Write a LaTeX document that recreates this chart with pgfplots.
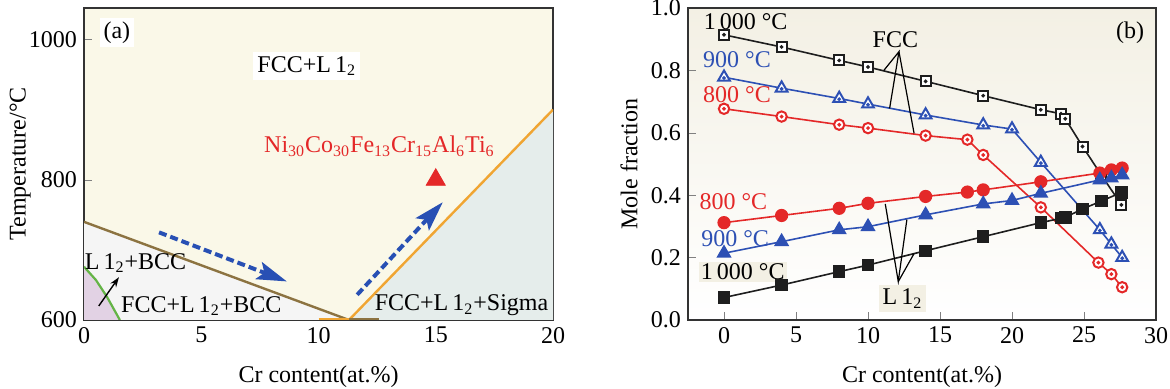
\documentclass[border=0pt]{standalone}
\usepackage{fontspec}
\setmainfont{Liberation Serif}
\usepackage{pgfplots}
\pgfplotsset{compat=1.18}
\usetikzlibrary{arrows.meta}
\definecolor{cream}{RGB}{250,248,232}
\definecolor{lgray}{RGB}{245,245,245}
\definecolor{sigmac}{RGB}{229,237,235}
\definecolor{purp}{RGB}{226,210,228}
\definecolor{brownl}{RGB}{140,115,65}
\definecolor{orangel}{RGB}{240,165,50}
\definecolor{greenl}{RGB}{100,180,70}
\definecolor{arrblue}{RGB}{40,80,180}
\definecolor{tred}{RGB}{228,40,40}
\definecolor{tblue}{RGB}{45,80,180}
\definecolor{tblack}{RGB}{30,30,30}
\definecolor{beige}{RGB}{243,240,228}

\pgfdeclareplotmark{sqdot}{%
  \pgfpathrectangle{\pgfqpoint{-\pgfplotmarksize}{-\pgfplotmarksize}}{\pgfqpoint{2\pgfplotmarksize}{2\pgfplotmarksize}}%
  \pgfusepathqfillstroke
  \pgfpathcircle{\pgfpointorigin}{0.35pt}\pgfusepathqstroke}
\pgfdeclareplotmark{tridot}{%
  \pgfpathmoveto{\pgfqpoint{0pt}{\pgfplotmarksize}}%
  \pgfpathlineto{\pgfqpointpolar{-30}{\pgfplotmarksize}}%
  \pgfpathlineto{\pgfqpointpolar{210}{\pgfplotmarksize}}%
  \pgfpathclose
  \pgfusepathqfillstroke
  \pgfpathcircle{\pgfqpoint{0pt}{-0.1\pgfplotmarksize}}{0.35pt}\pgfusepathqstroke}
\pgfdeclareplotmark{cirdot}{%
  \pgfpathcircle{\pgfpointorigin}{\pgfplotmarksize}%
  \pgfusepathqfillstroke
  \pgfpathcircle{\pgfpointorigin}{0.35pt}\pgfusepathqstroke}

\pgfplotsset{
  every axis/.append style={font=\fontsize{12}{14}\selectfont},
  /pgf/number format/assume math mode=true,
  /pgf/number format/set thousands separator={},
}

\begin{document}
\begin{tikzpicture}
\useasboundingbox (0,0) rectangle (585pt,194.5pt);
% ---------------- panel (a)
\begin{axis}[
  at={(42pt,34.5pt)}, anchor=south west,
  width=234.5pt, height=156pt, scale only axis,
  xmin=0, xmax=20, ymin=600, ymax=1045,
  xtick={0,5,10,15,20}, ytick={600,800,1000},
  tick align=inside, tick pos=left,
  major tick length=4pt,
  axis line style={line width=0.8pt, black!80},
  axis background/.style={fill=cream},
  xlabel={Cr content(at.\%)},
  ylabel={Temperature/°C},
  xlabel style={at={(axis description cs:0.5,-0.183)}, anchor=center},
  ylabel style={at={(axis description cs:-0.136,0.5)}, anchor=center},
  clip=true,
]
\addplot[fill=lgray, draw=none] coordinates {(0,600) (0,740) (11.3,600)} -- cycle;
\addplot[fill=sigmac, draw=none] coordinates {(11.3,600) (20,900) (20,600)} -- cycle;
\addplot[fill=purp, draw=none] coordinates {(0,600) (0,676) (0.51,657) (0.98,633) (1.53,600)} -- cycle;
\addplot[greenl, line width=1.1pt] coordinates {(0,676) (0.51,657) (0.98,633) (1.53,600)};
\addplot[brownl, line width=1.2pt] coordinates {(0,740) (11.3,600)};
\addplot[orangel, line width=1.2pt] coordinates {(11.3,600) (20,900)};
\addplot[orangel, line width=1.2pt] coordinates {(10,600.8) (11.3,600.8)};
\addplot[brownl, line width=1.2pt] coordinates {(11.3,600.8) (12.6,600.8)};
\addplot[arrblue, line width=2pt, dash pattern=on 4pt off 2pt, -{Stealth[length=15pt,width=9pt,inset=3pt]}] coordinates {(3.2,725) (8.65,655)};
\addplot[arrblue, line width=2pt, dash pattern=on 4pt off 2pt, -{Stealth[length=15pt,width=9pt,inset=3pt]}] coordinates {(11.65,636) (15.3,768)};
\addplot[only marks, mark=triangle*, tred, mark size=5.5pt] coordinates {(15,800)};
\addplot[black, line width=0.7pt, -{Stealth[length=5pt,width=3.5pt]}] coordinates {(0.63,620) (1.49,661)};
\node[fill=white, inner sep=2pt] at (axis cs:1.4,1010) {(a)};
\node[fill=white, inner sep=2pt] at (axis cs:9.5,962) {FCC+L\,1\textsubscript{2}};
\node[text=tred] at (axis cs:12.6,848) {Ni\textsubscript{30}Co\textsubscript{30}Fe\textsubscript{13}Cr\textsubscript{15}Al\textsubscript{6}Ti\textsubscript{6}};
\node at (axis cs:2.2,681) {L\,1\textsubscript{2}+BCC};
\node at (axis cs:5.0,620) {FCC+L\,1\textsubscript{2}+BCC};
\node at (axis cs:16.1,621) {FCC+L\,1\textsubscript{2}+Sigma};
\end{axis}
% ---------------- panel (b)
\begin{axis}[
  at={(344pt,34.5pt)}, anchor=south west,
  width=234pt, height=156pt, scale only axis,
  xmin=-2.5, xmax=30, ymin=0, ymax=1,
  xtick={0,5,10,15,20,25,30}, ytick={0,0.2,0.4,0.6,0.8,1},
  yticklabel style={/pgf/number format/.cd, fixed, fixed zerofill, precision=1},
  tick align=inside, tick pos=left,
  major tick length=4pt,
  axis line style={line width=0.8pt, black!80},
  axis background/.style={top color=beige, middle color=beige, bottom color=white},
  xlabel={Cr content(at.\%)},
  ylabel={Mole fraction},
  xlabel style={at={(axis description cs:0.5,-0.183)}, anchor=center},
  ylabel style={at={(axis description cs:-0.126,0.5)}, anchor=center},
]
% FCC curves (open marks)
\addplot[tblack, line width=0.8pt, mark=sqdot, mark size=2.5pt, mark options={fill=white, line width=1pt}] coordinates {
(0,0.914) (4,0.875) (8,0.832) (10,0.811) (14,0.765) (18,0.719) (22,0.674) (23.4,0.661) (23.7,0.645) (24.9,0.556) (26.2,0.465) (27.6,0.369)};
\addplot[tblue, line width=0.8pt, mark=tridot, mark size=3.4pt, mark options={fill=white, line width=1pt}] coordinates {
(0,0.778) (4,0.743) (8,0.710) (10,0.692) (14,0.657) (18,0.625) (20,0.612) (22,0.505) (26.1,0.289) (26.9,0.243) (27.65,0.200)};
\addplot[tred, line width=0.8pt, mark=cirdot, mark size=2.6pt, mark options={fill=white, line width=1pt}] coordinates {
(0,0.677) (4,0.652) (8,0.626) (10,0.615) (14,0.591) (16.9,0.578) (18,0.529) (22,0.361) (26,0.184) (26.9,0.147) (27.65,0.105)};
% L12 curves (filled marks)
\addplot[tred, line width=0.8pt, mark=*, mark size=2.9pt] coordinates {
(0,0.312) (4,0.335) (8,0.358) (10,0.374) (14,0.396) (16.9,0.410) (18,0.417) (22,0.443) (26.1,0.471) (26.9,0.481) (27.65,0.487)};
\addplot[tblue, line width=0.8pt, mark=triangle*, mark size=3.6pt] coordinates {
(0,0.214) (4,0.251) (8,0.289) (10,0.299) (14,0.337) (18,0.372) (20,0.383) (22,0.406) (26.1,0.449) (26.9,0.455) (27.65,0.465)};
\addplot[tblack, line width=0.8pt, mark=square*, mark size=2.7pt] coordinates {
(0,0.072) (4,0.112) (8,0.155) (10,0.176) (14,0.222) (18,0.267) (22,0.312) (23.4,0.326) (23.7,0.329) (24.9,0.356) (26.2,0.381) (27.6,0.409)};
% annotation lines
\draw[black, line width=0.6pt] (axis cs:11.1,0.80) -- (axis cs:12.15,0.86) -- (axis cs:11.5,0.678);
\draw[black, line width=0.6pt] (axis cs:12.15,0.86) -- (axis cs:13.2,0.598);
\draw[black, line width=0.6pt] (axis cs:11.2,0.372) -- (axis cs:12.1,0.123) -- (axis cs:12.7,0.322);
\draw[black, line width=0.6pt] (axis cs:12.1,0.123) -- (axis cs:13.2,0.213);
% labels
\node at (axis cs:1.5,0.955) {1\,000 °C};
\node[text=tblue] at (axis cs:0.9,0.833) {900 °C};
\node[text=tred] at (axis cs:0.9,0.721) {800 °C};
\node[text=tred] at (axis cs:0.65,0.379) {800 °C};
\node[text=tblue] at (axis cs:0.77,0.262) {900 °C};
\node[fill=beige, inner sep=1pt] at (axis cs:1.3,0.155) {1\,000 °C};
\node at (axis cs:11.9,0.897) {FCC};
\node[fill=beige, inner sep=2pt] at (axis cs:12.4,0.069) {L\,1\textsubscript{2}};
\node at (axis cs:28.2,0.92) {(b)};
\end{axis}
\end{tikzpicture}
\end{document}
